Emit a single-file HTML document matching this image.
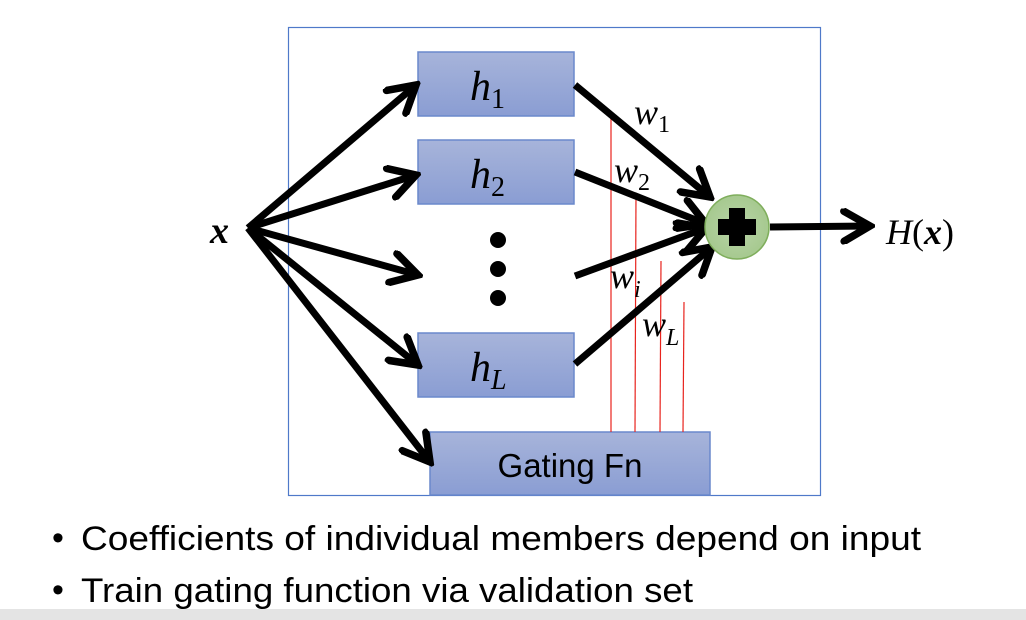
<!DOCTYPE html>
<html><head><meta charset="utf-8"><style>
html,body{margin:0;padding:0;background:#fff;width:1026px;height:620px;overflow:hidden}
</style></head><body>
<svg width="1026" height="620" viewBox="0 0 1026 620" xmlns="http://www.w3.org/2000/svg">
<defs>
<marker id="a" markerUnits="userSpaceOnUse" viewBox="0 0 36 36" refX="31" refY="18" markerWidth="36" markerHeight="36" orient="auto">
<path d="M5,3 L31,18 L5,33" fill="none" stroke="#000" stroke-width="7.5" stroke-linecap="round" stroke-linejoin="miter"/>
</marker>
<linearGradient id="g" x1="0" y1="0" x2="0" y2="1"><stop offset="0" stop-color="#a7b4da"/><stop offset="1" stop-color="#8a9dd3"/></linearGradient>
<radialGradient id="c"><stop offset="0" stop-color="#b9d4a8"/><stop offset="1" stop-color="#a6c98f"/></radialGradient>
</defs>
<rect x="288.5" y="27.5" width="532" height="468" fill="none" stroke="#4f79c9" stroke-width="1.2"/>
<g stroke="#6a88cc" stroke-width="1.5" fill="url(#g)">
<rect x="418" y="52" width="156" height="64"/>
<rect x="418" y="140" width="156" height="64"/>
<rect x="418" y="333" width="156" height="64"/>
<rect x="430" y="432" width="280" height="63"/>
</g>
<g fill="#000"><circle cx="498" cy="240" r="8"/><circle cx="498" cy="269" r="8"/><circle cx="498" cy="298" r="8"/></g>
<g stroke="#e8231d" stroke-width="1.2">
<line x1="611" y1="112" x2="611" y2="432"/>
<line x1="636" y1="193" x2="635" y2="432"/>
<line x1="661" y1="261" x2="660" y2="432"/>
<line x1="684" y1="302" x2="683" y2="432"/>
</g>
<g stroke="#000" stroke-width="7" fill="none" marker-end="url(#a)">
<line x1="248" y1="228" x2="416" y2="85"/>
<line x1="248" y1="228" x2="416" y2="175"/>
<line x1="248" y1="228" x2="418" y2="275"/>
<line x1="248" y1="228" x2="418" y2="365"/>
<line x1="248" y1="228" x2="430" y2="462"/>
<line x1="575" y1="85" x2="710" y2="197"/>
<line x1="575" y1="172" x2="706" y2="224"/>
<line x1="575" y1="276" x2="706" y2="228"/>
<line x1="575" y1="364" x2="712" y2="247"/>
<line x1="770" y1="227" x2="870" y2="226"/>
</g>
<circle cx="737" cy="227" r="32" fill="url(#c)" stroke="#7fae5c" stroke-width="1.5"/>
<rect x="729" y="208" width="16" height="38" fill="#000"/>
<rect x="718" y="219" width="38" height="16" fill="#000"/>
<g font-family="Liberation Serif, serif" font-style="italic" fill="#000">
<text x="210" y="243" font-size="38" font-weight="bold">x</text>
<text x="470" y="100" font-size="42">h<tspan font-style="normal" font-size="28" dy="8">1</tspan></text>
<text x="470" y="188" font-size="42">h<tspan font-style="normal" font-size="28" dy="8">2</tspan></text>
<text x="470" y="381" font-size="42">h<tspan font-size="28" dy="8">L</tspan></text>
<text x="634" y="124" font-size="36">w<tspan font-style="normal" font-size="24" dy="8">1</tspan></text>
<text x="614" y="182" font-size="36">w<tspan font-style="normal" font-size="24" dy="8">2</tspan></text>
<text x="610" y="288" font-size="36">w<tspan font-size="24" dy="9">i</tspan></text>
<text x="642" y="336" font-size="36">w<tspan font-size="24" dy="9">L</tspan></text>
<text x="886" y="244" font-size="36">H<tspan font-style="normal">(</tspan><tspan font-weight="bold">x</tspan><tspan font-style="normal">)</tspan></text>
</g>
<text x="570" y="477" font-family="Liberation Sans, sans-serif" font-size="33" text-anchor="middle" fill="#000">Gating Fn</text>
<g font-family="Liberation Sans, sans-serif" font-size="34" fill="#000">
<text x="52" y="549">•</text>
<text x="81" y="550" textLength="840" lengthAdjust="spacingAndGlyphs">Coefficients of individual members depend on input</text>
<text x="52" y="601">•</text>
<text x="81" y="602" textLength="612" lengthAdjust="spacingAndGlyphs">Train gating function via validation set</text>
</g>
<rect x="0" y="609" width="1026" height="11" fill="#e4e4e4"/>
</svg>
</body></html>
